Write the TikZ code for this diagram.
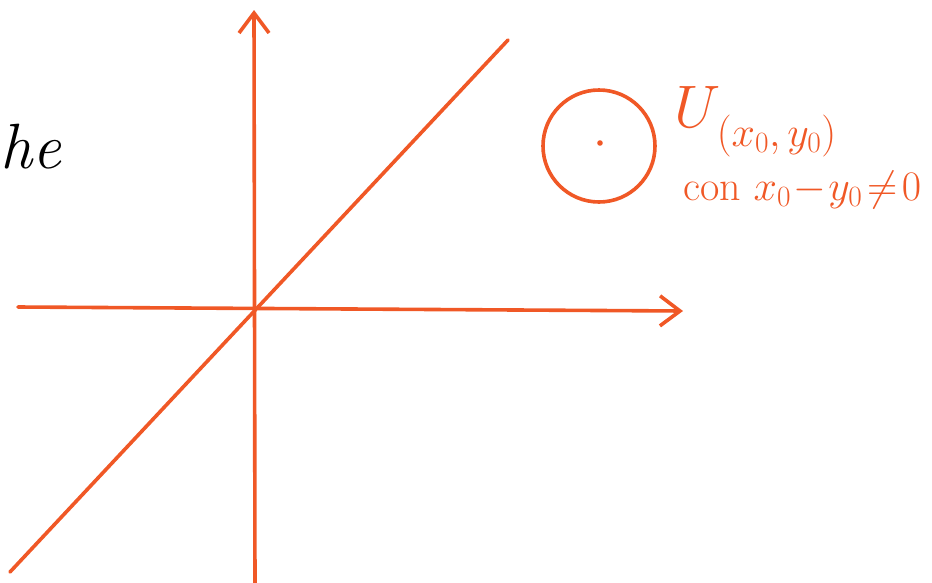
\RequirePackage{fix-cm}
\documentclass[tikz,border=0pt]{standalone}
\usetikzlibrary{arrows.meta}
\definecolor{pen}{RGB}{240,88,38}
\begin{document}
\begin{tikzpicture}[x=1pt,y=-1pt,
  axis/.style={draw=pen,line width=3.6pt,line cap=round},
  arr/.style={axis,-{Straight Barb[length=20pt,width=30pt,line width=3.6pt]}},
  txt/.style={text=pen,inner sep=0pt}]
\useasboundingbox (0,0) rectangle (932,582);
\coordinate (hL) at (18,307);
\coordinate (hR) at (683,311);
\coordinate (vB) at (255,590);
\coordinate (vT) at (254,10);
\coordinate (dA) at (10,572);
\coordinate (dB) at (508,40);
\coordinate (c) at (599,146);
\draw[arr] (hL) -- (hR);
\draw[arr] (vB) -- (vT);
\draw[axis] (dA) -- (dB);
\draw[draw=pen,line width=3.6pt] (c) circle (56);
\fill[pen] (600,143) circle (2.8);
\node[txt,anchor=base west] (U) at (674,127) {\fontsize{60}{62}\selectfont$U$};
\node[txt,anchor=base west] (Usub) at (U.base east) [xshift=-4pt,yshift=-19pt] {\fontsize{42}{44}\selectfont$(x_0,y_0)$};
\node[txt,anchor=base west] (cond) at (683,200) {\fontsize{42}{44}\selectfont con $x_0\!-\!y_0\!\neq\!0$};
\node[inner sep=0pt,anchor=base west] (he) at (0,168) {\fontsize{64}{66}\selectfont\itshape he};
\end{tikzpicture}
\end{document}
